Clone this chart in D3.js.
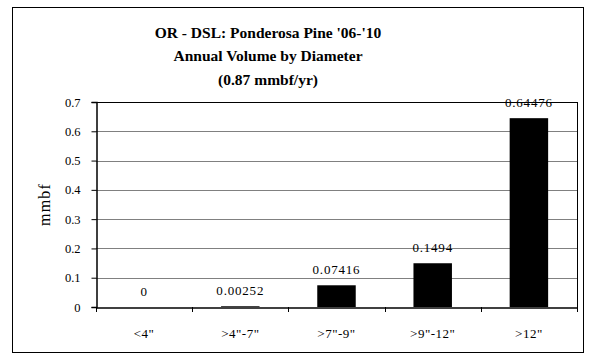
<!DOCTYPE html>
<html><head><meta charset="utf-8">
<script src="https://cdn.jsdelivr.net/npm/d3@7"></script>
<style>body{margin:0;background:#fff}svg{display:block}</style>
</head><body>
<script>
const categories = ['<4"', '>4"-7"', '>7"-9"', '>9"-12"', '>12"'];
const values = [0, 0.00252, 0.07416, 0.1494, 0.64476];
const valueLabels = ["0", "0.00252", "0.07416", "0.1494", "0.64476"];
const yTicks = [0, 0.1, 0.2, 0.3, 0.4, 0.5, 0.6, 0.7];
const titleLines = ["OR - DSL: Ponderosa Pine '06-'10", "Annual Volume by Diameter", "(0.87 mmbf/yr)"];

const W = 595, H = 360;
const m = {left: 96, right: 18, top: 102, bottom: 53};
const svg = d3.select("body").append("svg").attr("width", W).attr("height", H);
const font = "'Liberation Serif','Times New Roman',serif";

svg.append("rect").attr("x", 12.5).attr("y", 7.5).attr("width", 571).attr("height", 345)
  .attr("fill", "#fff").attr("stroke", "#000").attr("stroke-width", 1);

const x = d3.scaleBand().domain(categories).range([m.left, W - m.right]).paddingInner(0.6).paddingOuter(0.3);
const xOuter = d3.scaleBand().domain(categories).range([m.left, W - m.right]);
const y = d3.scaleLinear().domain([0, 0.7]).range([H - m.bottom, m.top]);

// gridlines
svg.append("g").selectAll("line").data(yTicks.filter(t => t > 0 && t < 0.7)).join("line")
  .attr("x1", m.left).attr("x2", W - m.right)
  .attr("y1", d => Math.round(y(d)) + 0.5).attr("y2", d => Math.round(y(d)) + 0.5)
  .attr("stroke", "#808080").attr("stroke-width", 1);

// plot border top & right
svg.append("line").attr("x1", m.left).attr("x2", W - m.right).attr("y1", Math.round(y(0.7)) + 0.5).attr("y2", Math.round(y(0.7)) + 0.5).attr("stroke", "#000");
svg.append("line").attr("x1", W - m.right + 0.5).attr("x2", W - m.right + 0.5).attr("y1", y(0.7)).attr("y2", y(0)).attr("stroke", "#000");

// bars
svg.append("g").selectAll("rect").data(values).join("rect")
  .attr("x", (d, i) => x(categories[i])).attr("width", x.bandwidth())
  .attr("y", d => y(d)).attr("height", d => y(0) - y(d)).attr("fill", "#000");

// y axis
const yAxis = svg.append("g").attr("transform", `translate(${m.left + 0.5},0)`)
  .call(d3.axisLeft(y).tickValues(yTicks).tickFormat(d3.format("")).tickSize(5).tickPadding(11));
yAxis.select(".domain").attr("stroke", "#000").attr("stroke-width", 1.5);
yAxis.selectAll("text").attr("font-family", font).attr("font-size", 12.5).attr("fill", "#000");

// x axis
const xAxis = svg.append("g").attr("transform", `translate(0,${Math.round(y(0)) + 0.5})`)
  .call(d3.axisBottom(xOuter).tickSize(0).tickPadding(21));
xAxis.select(".domain").attr("stroke", "#000").attr("stroke-width", 1.5);
xAxis.selectAll("text").attr("font-family", font).attr("font-size", 13).attr("letter-spacing", 0.5).attr("fill", "#000");
svg.append("g").selectAll("line").data(categories.map(c => xOuter(c)).concat([W - m.right])).join("line")
  .attr("x1", d => Math.round(d) + 0.5).attr("x2", d => Math.round(d) + 0.5)
  .attr("y1", y(0)).attr("y2", y(0) + 5).attr("stroke", "#000");

// value labels
svg.append("g").selectAll("text").data(values).join("text")
  .attr("x", (d, i) => x(categories[i]) + x.bandwidth() / 2)
  .attr("y", d => y(d) - 11).attr("text-anchor", "middle")
  .attr("font-family", font).attr("font-size", 13).attr("letter-spacing", 0.8).attr("fill", "#000")
  .text((d, i) => valueLabels[i]);

// title
svg.append("g").selectAll("text").data(titleLines).join("text")
  .attr("x", 268).attr("y", (d, i) => 38 + i * 23.3)
  .attr("text-anchor", "middle").attr("font-family", font).attr("font-weight", "bold")
  .attr("font-size", 15.5).attr("fill", "#000").text(d => d);

// y label
svg.append("text").attr("transform", `translate(50,${(y(0) + y(0.7)) / 2}) rotate(-90)`)
  .attr("text-anchor", "middle").attr("font-family", font).attr("font-size", 16).attr("letter-spacing", 1.2).attr("fill", "#000").text("mmbf");
</script>
</body></html>
